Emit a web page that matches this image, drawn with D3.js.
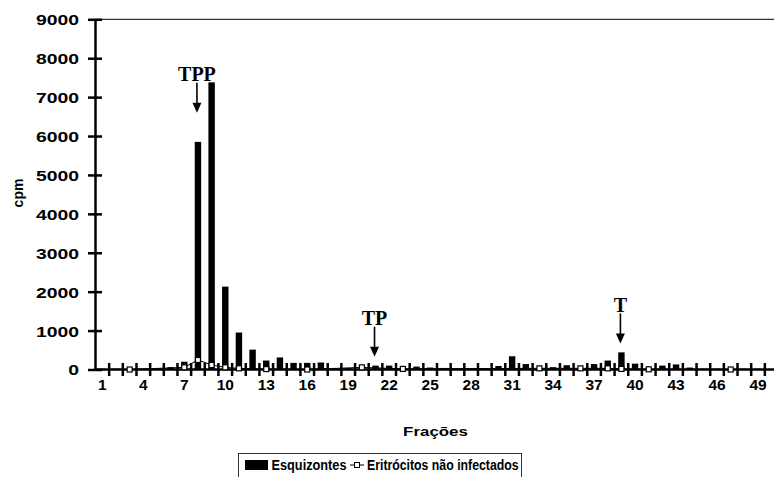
<!DOCTYPE html>
<html><head><meta charset="utf-8">
<script src="https://cdn.jsdelivr.net/npm/d3@7"></script>
<style>body{margin:0;background:#fff} svg{display:block}</style>
</head><body>
<svg id="c" width="774" height="477"></svg>
<script>
// ---- data ----
const fractions = d3.range(1, 51);
const tickLabels = [1, 4, 7, 10, 13, 16, 19, 22, 25, 28, 31, 34, 37, 40, 43, 46, 49];
const esquizontes = [20, 20, 20, 20, 20, 60, 200, 5850, 7380, 2130,
  950, 510, 230, 310, 170, 170, 180, 30, 30, 30,
  100, 100, 30, 75, 50, 40, 20, 20, 35, 90,
  340, 140, 40, 60, 110, 30, 140, 230, 440, 150,
  20, 100, 130, 50, 20, 20, 20, 20, 20, null];
const uninfFractions = [3, 7, 8, 9, 10, 11, 13, 16, 20, 23, 33, 36, 38, 39, 41, 47];
const uninfValues = [0, 55, 245, 115, 55, 30, 10, 0, 55, 15, 30, 30, 30, 15, 5, 0];
const yTicks = [0, 1000, 2000, 3000, 4000, 5000, 6000, 7000, 8000, 9000];
const annLabels = ["TPP", "TP", "T"];
const annFractions = [8, 21, 39];
const annTips = [6600, 330, 670];
const seriesNames = ["Esquizontes", "Eritrócitos não infectados"];

// ---- scales ----
const svg = d3.select("#c");
const step = 13.66, x0 = 95.5;
const x = d3.scaleBand().domain(fractions).range([x0, x0 + step * fractions.length]).padding(0);
const y = d3.scaleLinear().domain([0, 9000]).range([369.5, 19.3]);
const bw = x.bandwidth() * 0.47;
const cx = f => x(f) + x.bandwidth() / 2;
const sans = "'Liberation Sans', Arial, sans-serif";
const serif = "'Liberation Serif', 'Times New Roman', serif";

// top frame line
svg.append("line").attr("x1", 95).attr("x2", 774).attr("y1", y(9000)).attr("y2", y(9000))
  .attr("stroke", "#000").attr("stroke-width", 1);

// bars
svg.append("g").selectAll("rect")
  .data(fractions.map((f, i) => ({f, v: esquizontes[i]})).filter(d => d.v != null))
  .join("rect")
  .attr("x", d => cx(d.f) - bw / 2)
  .attr("width", bw)
  .attr("y", d => y(d.v))
  .attr("height", d => y(0) - y(d.v))
  .attr("fill", "#000");

// y axis
const yAxis = svg.append("g").attr("transform", "translate(95,0)")
  .call(d3.axisLeft(y).tickValues(yTicks).tickFormat(d3.format("d"))
    .tickSizeInner(7).tickSizeOuter(0).tickPadding(0));
yAxis.select(".domain").attr("stroke-width", 2.5);
yAxis.selectAll(".tick line").attr("x1", -7).attr("x2", 7).attr("stroke-width", 2.5);
yAxis.selectAll(".tick text")
  .attr("x", -16 / 1.25).attr("dy", "0.35em")
  .attr("transform", "scale(1.25,1)")
  .attr("font-family", sans).attr("font-weight", "bold").attr("font-size", 15.5)
  .attr("text-anchor", "end").attr("fill", "#000");

// x axis line
svg.append("line").attr("x1", 94).attr("x2", 774).attr("y1", y(0)).attr("y2", y(0))
  .attr("stroke", "#000").attr("stroke-width", 2.5);
// cross ticks at category boundaries
svg.append("g").selectAll("line")
  .data(fractions.slice(1).map(f => x(f)).concat([x(fractions[fractions.length - 1]) + x.bandwidth()]))
  .join("line")
  .attr("x1", d => d).attr("x2", d => d)
  .attr("y1", y(0) - 6.5).attr("y2", y(0) + 6.5)
  .attr("stroke", "#000").attr("stroke-width", 2.5);
// x labels
const xAxis = svg.append("g").attr("transform", `translate(0,${y(0)})`)
  .call(d3.axisBottom(x).tickValues(tickLabels).tickSize(0).tickPadding(0));
xAxis.select(".domain").remove();
xAxis.selectAll(".tick text")
  .attr("y", 20.5).attr("dy", 0)
  .attr("font-family", sans).attr("font-weight", "bold").attr("font-size", 15.5).attr("fill", "#000");

// uninfected line + markers
const uninf = uninfFractions.map((f, i) => ({f, v: uninfValues[i]}));
svg.append("path").datum(uninf)
  .attr("d", d3.line().x(d => cx(d.f)).y(d => y(d.v)))
  .attr("fill", "none").attr("stroke", "#000").attr("stroke-width", 1);
svg.append("g").selectAll("rect").data(uninf).join("rect")
  .attr("x", d => cx(d.f) - 2.5).attr("y", d => y(d.v) - 2.5)
  .attr("width", 5).attr("height", 5)
  .attr("fill", "#fff").attr("stroke", "#000").attr("stroke-width", 1.2);

// annotations
const ann = annLabels.map((l, i) => ({l, f: annFractions[i], tip: annTips[i]}));
const ag = svg.append("g").selectAll("g").data(ann).join("g")
  .attr("transform", d => `translate(${cx(d.f) - 1},${y(d.tip)})`);
ag.append("line").attr("x1", 0).attr("x2", 0).attr("y1", -30).attr("y2", -8)
  .attr("stroke", "#000").attr("stroke-width", 1.6);
ag.append("path").attr("d", "M-4.5,-10 L4.5,-10 L0,0 Z").attr("fill", "#000");
ag.append("text").text(d => d.l)
  .attr("x", 0).attr("y", -31.5).attr("text-anchor", "middle")
  .attr("font-family", serif).attr("font-weight", "bold").attr("font-size", 20).attr("fill", "#000");

// axis titles
svg.append("text").text("Frações")
  .attr("transform", "translate(435.5,436) scale(1.3,1)")
  .attr("text-anchor", "middle")
  .attr("font-family", sans).attr("font-weight", "bold").attr("font-size", 13).attr("fill", "#000");
svg.append("text").text("cpm")
  .attr("transform", "translate(23,193) rotate(-90)")
  .attr("text-anchor", "middle")
  .attr("font-family", sans).attr("font-weight", "bold").attr("font-size", 14).attr("fill", "#000");

// legend
const lg = svg.append("g");
lg.append("rect").attr("x", 238.5).attr("y", 453.5).attr("width", 283).attr("height", 30)
  .attr("fill", "#fff").attr("stroke", "#333").attr("stroke-width", 1);
lg.append("rect").attr("x", 245).attr("y", 460).attr("width", 23).attr("height", 10).attr("fill", "#000");
lg.append("text").text(seriesNames[0])
  .attr("transform", "translate(271.5,470) scale(0.85,1)")
  .attr("font-family", sans).attr("font-weight", "bold").attr("font-size", 15).attr("fill", "#000");
lg.append("line").attr("x1", 350).attr("x2", 364).attr("y1", 465).attr("y2", 465)
  .attr("stroke", "#000").attr("stroke-width", 1);
lg.append("rect").attr("x", 354.5).attr("y", 462.5).attr("width", 5).attr("height", 5)
  .attr("fill", "#fff").attr("stroke", "#000").attr("stroke-width", 1);
lg.append("text").text(seriesNames[1])
  .attr("transform", "translate(367,470) scale(0.82,1)")
  .attr("font-family", sans).attr("font-weight", "bold").attr("font-size", 15).attr("fill", "#000");
</script>
</body></html>
